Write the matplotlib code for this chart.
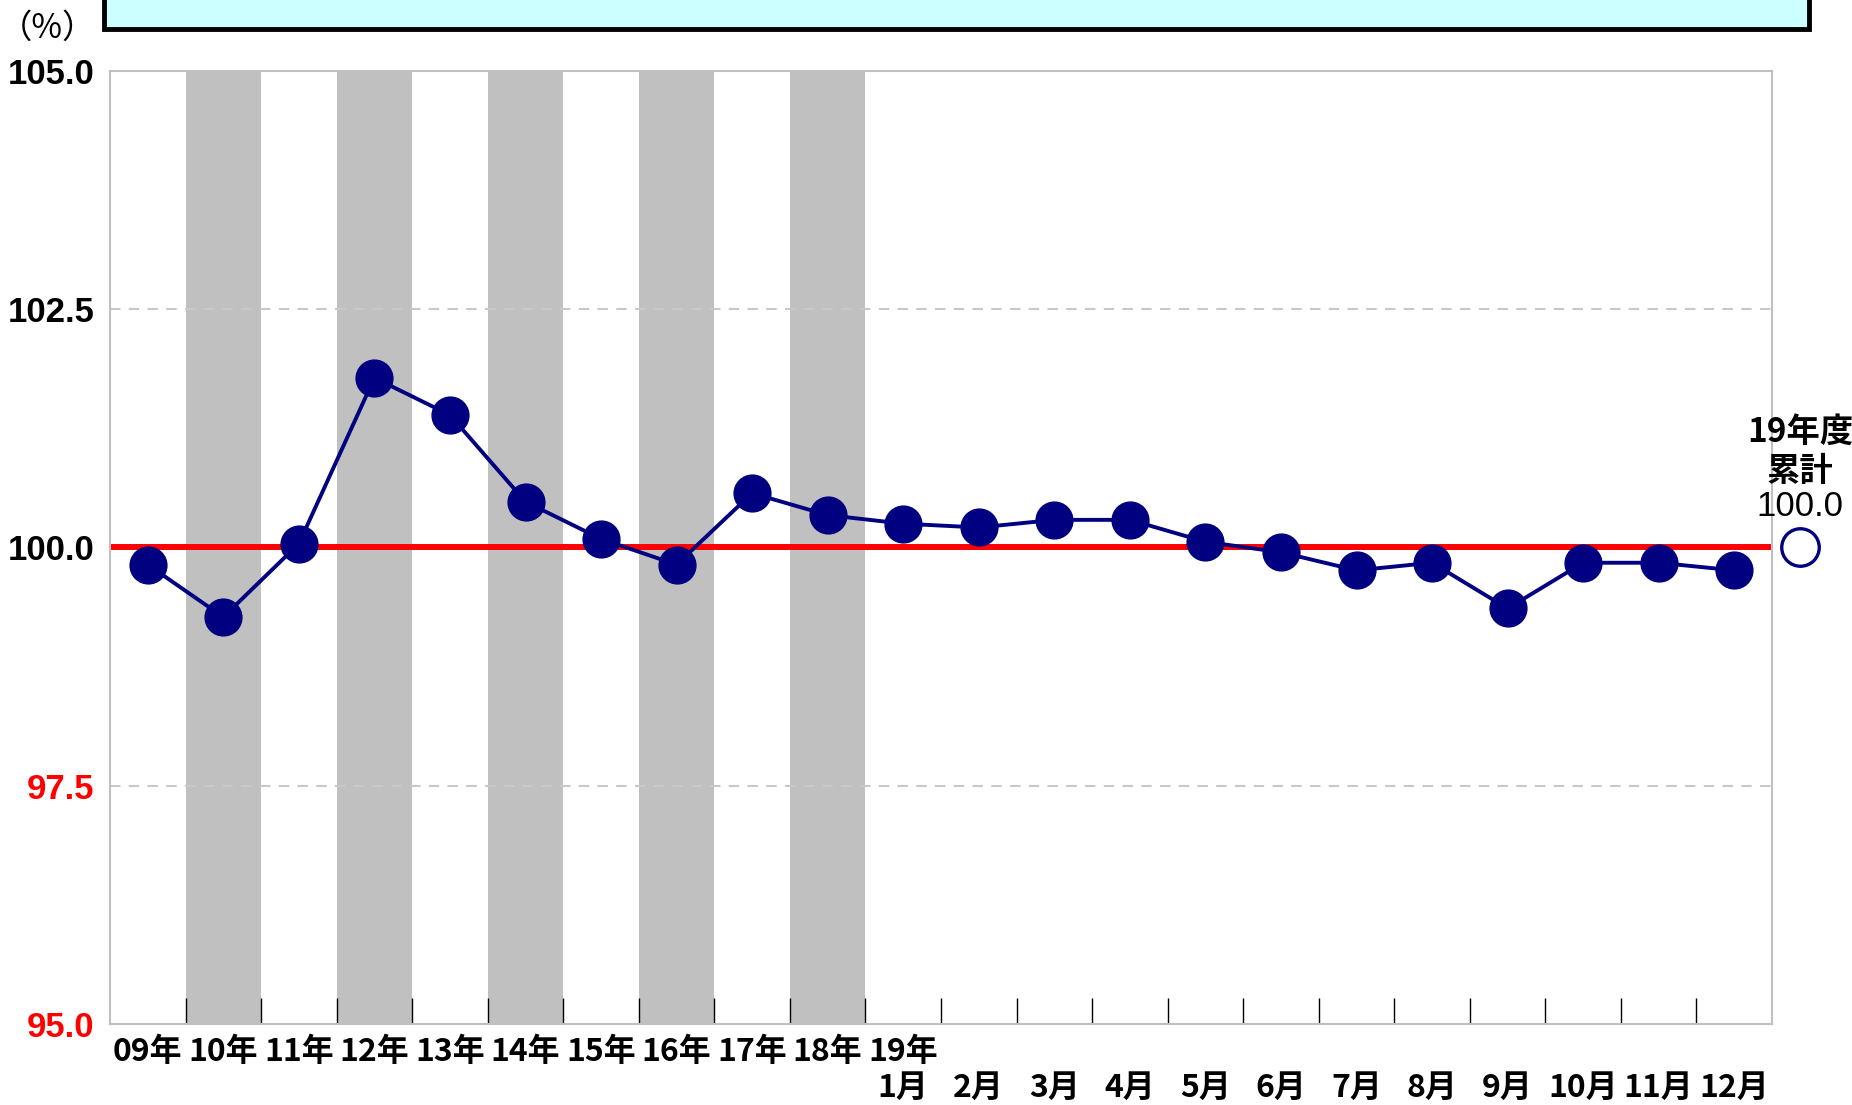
import matplotlib
matplotlib.use('Agg')
import matplotlib.pyplot as plt
from matplotlib.patches import Rectangle

plt.rcParams['font.family'] = ['Noto Sans CJK JP', 'DejaVu Sans']

# data
years = ['09年', '10年', '11年', '12年', '13年', '14年', '15年', '16年', '17年', '18年']
months = ['1月', '2月', '3月', '4月', '5月', '6月', '7月', '8月', '9月', '10月', '11月', '12月']
year_vals = [99.82, 99.27, 100.04, 101.78, 101.39, 100.48, 100.09, 99.82, 100.57, 100.34]
month_vals = [100.25, 100.21, 100.29, 100.29, 100.06, 99.95, 99.76, 99.84, 99.36, 99.84, 99.84, 99.76]
total_label = '19年度\n累計'
total_val = 100.0

labels = years + ['19年\n' + months[0]] + ['\n' + m for m in months[1:]]
vals = year_vals + month_vals
x = list(range(len(vals)))
n = len(vals)

fig = plt.figure(figsize=(18.52, 11.05), dpi=100)
ax = fig.add_axes([110/1852, 1-1024/1105, (1772-110)/1852, (1024-71)/1105])

# shaded bands on alternate years
for i in range(1, len(years), 2):
    ax.axvspan(i-0.5, i+0.5, color='#C0C0C0', lw=0, zorder=0)

ax.set_xlim(-0.5, n-0.5)
ax.set_ylim(95, 105)
ax.set_yticks([95, 97.5, 100, 102.5, 105])
ax.set_yticklabels(['95.0', '97.5', '100.0', '102.5', '105.0'],
                   family='Liberation Sans', weight='bold', fontsize=25)
for t in ax.get_yticklabels()[:2]:
    t.set_color('red')
ax.tick_params(axis='y', length=0, pad=11)

for yv in [97.5, 102.5]:
    ax.axhline(yv, color='#C8C8C8', ls=(0, (5, 4)), lw=1.5, zorder=1)
ax.axhline(100, color='red', lw=4.3, zorder=2)

ax.plot(x, vals, color='#000080', lw=2.8, marker='o', ms=26.5,
        mfc='#000080', mec='#000080', zorder=3)

# cumulative value, outside the plot area
xt = n - 0.5 + 0.37
ax.plot([xt], [total_val], marker='o', ms=27, mfc='white', mec='#000080',
        mew=2.4, clip_on=False, zorder=4)
ax.text(xt, 101.0, total_label, ha='center', va='center', fontsize=24,
        weight='bold', linespacing=1.25)
ax.text(xt, 100.43, f'{total_val:.1f}', ha='center', va='center', fontsize=25,
        family='Liberation Sans')

ax.set_xticks(x)
ax.set_xticklabels(labels, fontsize=23, weight='bold', linespacing=1.15)
ax.tick_params(axis='x', length=0, pad=9)
ax.set_xticks([i + 0.5 for i in range(n-1)], minor=True)
ax.tick_params(axis='x', which='minor', direction='in', length=19, width=1, color='black')

for s in ax.spines.values():
    s.set_color('#C0C0C0')
    s.set_linewidth(1.5)

# title box at top (cut off)
fig.patches.append(Rectangle((104/1852, 1-29/1105), (1809-104)/1852, 0.1,
                             transform=fig.transFigure, facecolor='#CCFFFF',
                             edgecolor='black', lw=3.5))
fig.text(47/1852, 1-28/1105, '（%）', ha='center', va='center', fontsize=24)

plt.savefig('out.png', dpi=100)
